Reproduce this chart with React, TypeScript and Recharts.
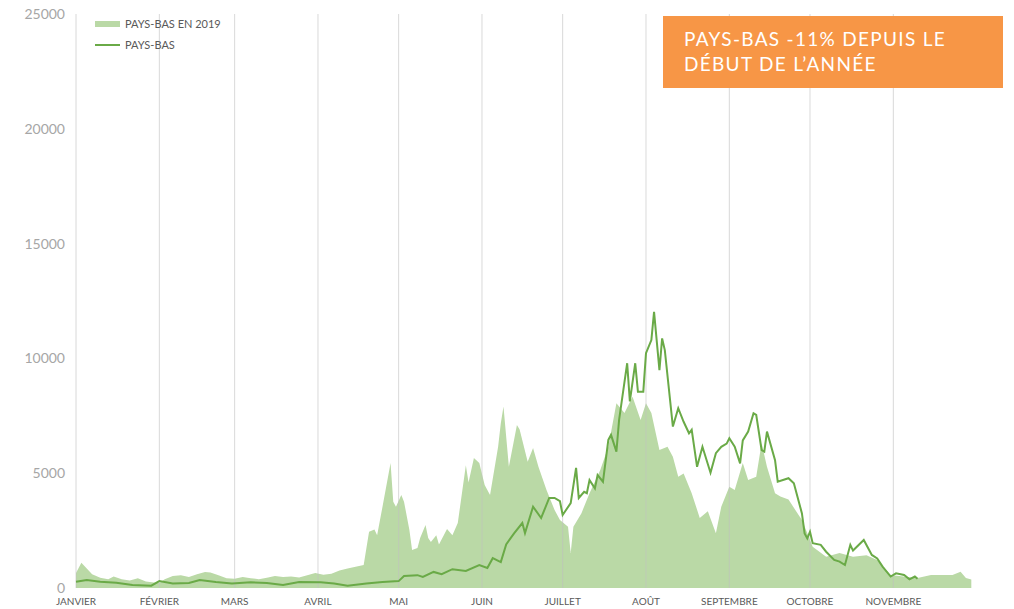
import React from "react";
import {
  ComposedChart,
  Area,
  Line,
  XAxis,
  YAxis,
  ReferenceLine,
  Legend,
} from "recharts";

// day of year (0 = 1 janvier) and tickets per day
const days2019 = [
  0, 2, 4, 6, 9, 12, 14, 17, 20, 23, 26, 29, 31, 33, 36, 39, 42, 45, 48, 50, 53, 56, 59, 62, 65, 68, 71,
  74, 77, 80, 83, 86, 89, 92, 95, 98, 101, 104, 107, 109, 111, 112, 114, 117, 118, 119, 121, 122, 124,
  125, 127, 128, 130, 131, 132, 134, 135, 138, 140, 142, 145, 146, 148, 150, 152, 154, 157, 158, 159,
  161, 164, 165, 168, 170, 172, 175, 178, 180, 183, 184, 185, 188, 191, 195, 198, 201, 204, 207, 210,
  212, 214, 217, 220, 222, 224, 226, 229, 232, 235, 238, 240, 243, 245, 248, 250, 253, 255, 257, 260,
  262, 265, 270, 272, 274, 279, 284, 289, 294, 298, 303, 307, 313, 318, 323, 326, 329, 331, 333,
];
const values2019 = [
  650, 1100, 850, 600, 450, 380, 500, 380, 330, 420, 280, 240, 220, 380, 520, 560, 480, 600, 700, 680,
  560, 420, 400, 480, 430, 380, 450, 520, 480, 500, 460, 560, 650, 580, 620, 760, 850, 930, 1000, 2450,
  2550, 2300, 3540, 5440, 3760, 3540, 4050, 3760, 2530, 1650, 1740, 2180, 2740, 2180, 2000, 2300, 1900,
  2570, 2300, 2830, 5350, 4600, 5660, 5440, 4490, 4050, 6150, 7180, 7900, 5280, 7100, 6900, 5500, 6100,
  5280, 4270, 3400, 2960, 2670, 1520, 2670, 3260, 4130, 5140, 6150, 8050, 7620, 8330, 7320, 8050, 7620,
  6010, 6150, 5720, 4850, 4990, 4130, 3050, 3340, 2390, 3540, 4410, 4270, 5440, 4700, 4850, 6300, 5280,
  4130, 3990, 3850, 2960, 2390, 1800, 1360, 1520, 1360, 1430, 1220, 570, 510, 440, 570, 570, 570, 710,
  440, 370,
];

const days2020 = [
  0, 4, 9, 15, 21, 28, 31, 36, 42, 46, 52, 58, 65, 71, 77, 83, 91, 96, 101, 108, 114, 120, 122, 127, 129,
  133, 136, 140, 145, 150, 153, 155, 158, 160, 163, 166, 167, 170, 173, 176, 178, 180, 181, 184, 186,
  187, 189, 190, 191, 193, 194, 196, 198, 199, 201, 202, 205, 206, 208, 209, 211, 212, 214, 215, 217,
  218, 219, 222, 224, 226, 228, 229, 231, 233, 236, 238, 240, 242, 243, 245, 247, 248, 250, 252, 253,
  255, 256, 257, 260, 261, 265, 267, 270, 271, 272, 273, 274, 277, 279, 282, 284, 286, 288, 289, 293,
  296, 298, 300, 303, 305, 308, 310, 312, 313,
];
const values2020 = [
  275, 350, 270, 230, 130, 100, 300, 200, 220, 350, 260, 200, 250, 220, 130, 260, 250, 200, 100, 200,
  260, 300, 520, 560, 480, 700, 600, 820, 740, 1000, 870, 1300, 1130, 1900, 2390, 2830, 2390, 3540,
  3050, 3920, 3920, 3780, 3180, 3700, 5230, 3920, 4190, 4130, 4700, 4340, 4920, 4630, 6450, 6670, 5940,
  7320, 9790, 8130, 9790, 8550, 8550, 10230, 10800, 12030, 9490, 10870, 10360, 7030, 7830, 7240, 6740,
  6890, 5280, 6150, 5020, 5870, 6150, 6290, 6520, 6150, 5430, 6430, 6810, 7610, 7540, 6010, 5940, 6810,
  5570, 4630, 4780, 4560, 3250, 2380, 2160, 2450, 1950, 1880, 1580, 1220, 1150, 1000, 1880, 1630, 2090,
  1440, 1290, 930, 500, 640, 570, 380, 500, 400,
];

const monthDays = [0, 31, 59, 90, 120, 151, 181, 212, 243, 273, 304];
const monthLabels = [
  "JANVIER",
  "FÉVRIER",
  "MARS",
  "AVRIL",
  "MAI",
  "JUIN",
  "JUILLET",
  "AOÛT",
  "SEPTEMBRE",
  "OCTOBRE",
  "NOVEMBRE",
];
const yTicks = [0, 5000, 10000, 15000, 20000, 25000];

const AREA_COLOR = "#bad9a6";
const LINE_COLOR = "#6aaa47";
const FONT = "Lato, 'Open Sans', sans-serif";

function buildData() {
  const byDay = new Map<number, { day: number; y2019?: number; y2020?: number }>();
  days2019.forEach((d, i) => {
    const row = byDay.get(d) ?? { day: d };
    row.y2019 = values2019[i];
    byDay.set(d, row);
  });
  days2020.forEach((d, i) => {
    const row = byDay.get(d) ?? { day: d };
    row.y2020 = values2020[i];
    byDay.set(d, row);
  });
  return Array.from(byDay.values()).sort((a, b) => a.day - b.day);
}

const data = buildData();

function LegendBox() {
  return (
    <div style={{ fontFamily: FONT, fontSize: 11, color: "#595959", lineHeight: "21px" }}>
      <div style={{ display: "flex", alignItems: "center" }}>
        <span style={{ width: 25, height: 6, background: AREA_COLOR, marginRight: 5 }} />
        PAYS-BAS EN 2019
      </div>
      <div style={{ display: "flex", alignItems: "center" }}>
        <span style={{ width: 25, height: 2, background: LINE_COLOR, marginRight: 5 }} />
        PAYS-BAS
      </div>
    </div>
  );
}

export default function App() {
  return (
    <div style={{ position: "absolute", top: 0, left: 0, width: 1014, height: 609, background: "#fff" }}>
      <ComposedChart
        width={1014}
        height={609}
        data={data}
        margin={{ top: 14, right: 40, bottom: 0, left: 0 }}
      >
        <XAxis
          dataKey="day"
          type="number"
          domain={[0, 334]}
          ticks={monthDays}
          height={21}
          tickFormatter={(v: number) => monthLabels[monthDays.indexOf(v)] ?? ""}
          axisLine={false}
          tickLine={false}
          tickSize={4}
          tickMargin={6}
          tick={{ fill: "#595959", fontSize: 10, fontFamily: FONT }}
          interval={0}
        />
        <YAxis
          width={76}
          domain={[0, 25000]}
          ticks={yTicks}
          axisLine={false}
          tickLine={false}
          tickMargin={5}
          tick={{ fill: "#a6a6a6", fontSize: 14, fontFamily: FONT }}
        />
        <Legend
          layout="vertical"
          align="center"
          verticalAlign="middle"
          content={() => <LegendBox />}
          wrapperStyle={{ top: 13, left: 95, width: 200 }}
        />
        <Area
          dataKey="y2019"
          name="PAYS-BAS EN 2019"
          type="linear"
          stroke="none"
          fill={AREA_COLOR}
          fillOpacity={1}
          connectNulls
          isAnimationActive={false}
        />
        {monthDays.map((d) => (
          <ReferenceLine key={d} x={d} stroke="#bfbfbf" strokeOpacity={0.6} strokeWidth={1} />
        ))}
        <Line
          dataKey="y2020"
          name="PAYS-BAS"
          type="linear"
          stroke={LINE_COLOR}
          strokeWidth={2}
          dot={false}
          connectNulls
          isAnimationActive={false}
        />
      </ComposedChart>
      <div
        style={{
          position: "absolute",
          left: 663,
          top: 16,
          width: 340,
          height: 72,
          background: "#f79646",
          color: "#fff",
          fontFamily: FONT,
          fontSize: 19,
          lineHeight: "25px",
          letterSpacing: 1.3,
          padding: "10px 0 0 21px",
          boxSizing: "border-box",
        }}
      >
        PAYS-BAS -11% DEPUIS LE
        <br />
        DÉBUT DE L’ANNÉE
      </div>
    </div>
  );
}
